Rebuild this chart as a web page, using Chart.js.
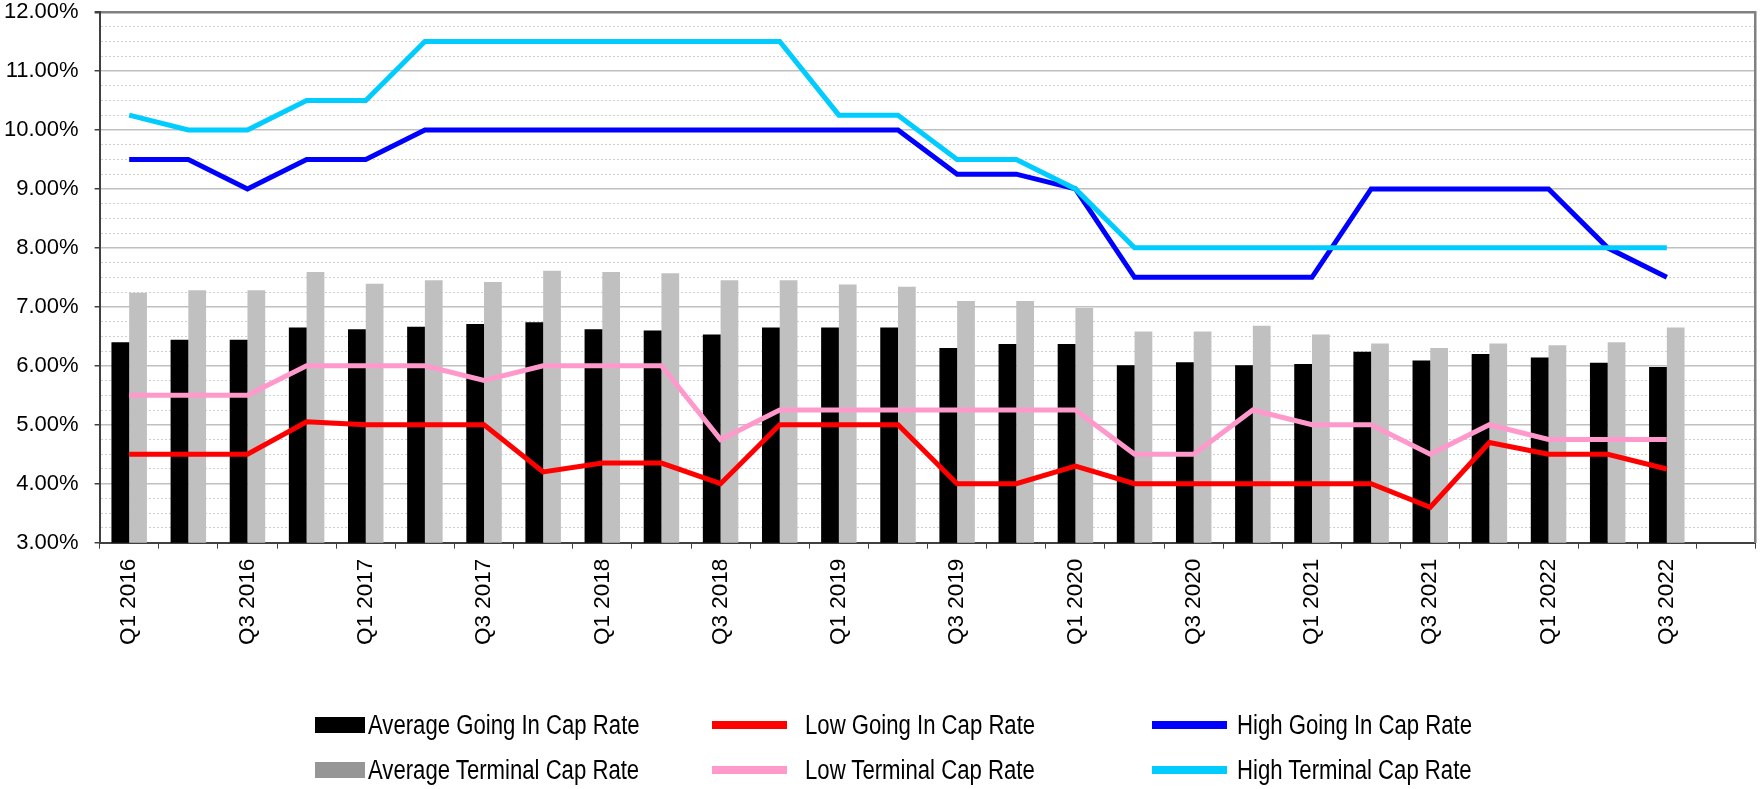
<!DOCTYPE html>
<html>
<head>
<meta charset="utf-8">
<script src="https://cdn.jsdelivr.net/npm/chart.js@4.4.0/dist/chart.umd.min.js"></script>
<style>
  html, body { margin: 0; padding: 0; background: #fff; }
  #wrap { position: relative; width: 1763px; height: 789px; overflow: hidden; }
  #capChart { position: absolute; left: 0; top: 0; }
  #legend {
    position: absolute; left: 0; top: 0; width: 1763px; height: 789px; pointer-events: none;
    font-family: 'Liberation Sans', Arial, sans-serif; font-size: 27px; color: #000;
  }
  .swatch { position: absolute; }
  .lg-text {
    position: absolute; white-space: nowrap; line-height: 30px; height: 30px;
    transform: scaleX(0.82); transform-origin: 0 50%;
  }
</style>
</head>
<body>
<div id="wrap">
  <canvas id="capChart" width="1763" height="789"></canvas>
  <div id="legend"></div>
</div>
<script>
document.addEventListener("DOMContentLoaded", function () {
  const quarters = [
    'Q1 2016', 'Q2 2016', 'Q3 2016', 'Q4 2016',
    'Q1 2017', 'Q2 2017', 'Q3 2017', 'Q4 2017',
    'Q1 2018', 'Q2 2018', 'Q3 2018', 'Q4 2018',
    'Q1 2019', 'Q2 2019', 'Q3 2019', 'Q4 2019',
    'Q1 2020', 'Q2 2020', 'Q3 2020', 'Q4 2020',
    'Q1 2021', 'Q2 2021', 'Q3 2021', 'Q4 2021',
    'Q1 2022', 'Q2 2022', 'Q3 2022', ''
  ];

  // cap rates in percent
  const avgGoingIn = [6.40, 6.44, 6.44, 6.65, 6.62, 6.66, 6.71, 6.74, 6.62, 6.60, 6.53, 6.65, 6.65, 6.65, 6.30, 6.37, 6.37, 6.01, 6.06, 6.01, 6.03, 6.24, 6.09, 6.20, 6.14, 6.05, 5.98];
  const avgTerminal = [7.24, 7.28, 7.28, 7.59, 7.39, 7.45, 7.42, 7.61, 7.59, 7.57, 7.45, 7.45, 7.38, 7.34, 7.10, 7.10, 6.98, 6.58, 6.58, 6.68, 6.53, 6.38, 6.30, 6.38, 6.35, 6.40, 6.65];
  const lowGoingIn = [4.5, 4.5, 4.5, 5.05, 5, 5, 5, 4.2, 4.35, 4.35, 4, 5, 5, 5, 4, 4, 4.3, 4, 4, 4, 4, 4, 3.6, 4.7, 4.5, 4.5, 4.25];
  const lowTerminal = [5.5, 5.5, 5.5, 6, 6, 6, 5.75, 6, 6, 6, 4.75, 5.25, 5.25, 5.25, 5.25, 5.25, 5.25, 4.5, 4.5, 5.25, 5, 5, 4.5, 5, 4.75, 4.75, 4.75];
  const highGoingIn = [9.5, 9.5, 9, 9.5, 9.5, 10, 10, 10, 10, 10, 10, 10, 10, 10, 9.25, 9.25, 9, 7.5, 7.5, 7.5, 7.5, 9, 9, 9, 9, 8, 7.5];
  const highTerminal = [10.25, 10, 10, 10.5, 10.5, 11.5, 11.5, 11.5, 11.5, 11.5, 11.5, 11.5, 10.25, 10.25, 9.5, 9.5, 9, 8, 8, 8, 8, 8, 8, 8, 8, 8, 8];

  const legendOrder = [
    'Average Going In Cap Rate', 'Low Going In Cap Rate', 'High Going In Cap Rate',
    'Average Terminal Cap Rate', 'Low Terminal Cap Rate', 'High Terminal Cap Rate'
  ];

  const yFont = { family: "'Liberation Sans', Arial, sans-serif", size: 22 };
  const xFont = { family: "'Liberation Sans', Arial, sans-serif", size: 22.5 };
  const isMajor = c => c.tick && Number.isInteger(c.tick.value);
  const isTop = c => c.tick && c.tick.value === 12;

  // legend drawn as html, laid out in the same 3 x 2 grid as the original
  const swatchLeft = [315, 712, 1152];
  const textLeft = [368, 805, 1237];
  const rowMid = [725, 770];
  const swatchOverride = { 'Average Terminal Cap Rate': '#969696' };

  const htmlLegend = {
    id: 'htmlLegend',
    afterUpdate(chart) {
      const box = document.getElementById('legend');
      box.innerHTML = '';
      const items = Chart.defaults.plugins.legend.labels.generateLabels(chart);
      legendOrder.forEach((name, k) => {
        const item = items.find(i => i.text === name);
        if (!item) return;
        const ds = chart.data.datasets[item.datasetIndex];
        const col = k % 3;
        const row = Math.floor(k / 3);
        const isLine = ds.type === 'line';
        const w = isLine ? 75 : 50;
        const h = isLine ? 8 : 16;

        const sw = document.createElement('span');
        sw.className = 'swatch';
        sw.style.left = swatchLeft[col] + 'px';
        sw.style.top = (rowMid[row] - h / 2) + 'px';
        sw.style.width = w + 'px';
        sw.style.height = h + 'px';
        sw.style.background = swatchOverride[name] || (isLine ? ds.borderColor : ds.backgroundColor);
        box.appendChild(sw);

        const tx = document.createElement('span');
        tx.className = 'lg-text';
        tx.style.left = textLeft[col] + 'px';
        tx.style.top = (rowMid[row] - 15) + 'px';
        tx.textContent = item.text;
        box.appendChild(tx);
      });
    }
  };

  new Chart(document.getElementById('capChart'), {
    type: 'bar',
    data: {
      labels: quarters,
      datasets: [
        { type: 'line', label: 'High Terminal Cap Rate', data: highTerminal, borderColor: '#00CCFF', backgroundColor: '#00CCFF', borderWidth: 5, pointRadius: 0, tension: 0, order: 0 },
        { type: 'line', label: 'High Going In Cap Rate', data: highGoingIn, borderColor: '#0000FF', backgroundColor: '#0000FF', borderWidth: 5, pointRadius: 0, tension: 0, order: 1 },
        { type: 'line', label: 'Low Terminal Cap Rate', data: lowTerminal, borderColor: '#FF99CC', backgroundColor: '#FF99CC', borderWidth: 5, pointRadius: 0, tension: 0, order: 2 },
        { type: 'line', label: 'Low Going In Cap Rate', data: lowGoingIn, borderColor: '#FF0000', backgroundColor: '#FF0000', borderWidth: 5, pointRadius: 0, tension: 0, order: 3 },
        { type: 'bar', label: 'Average Going In Cap Rate', data: avgGoingIn, backgroundColor: '#000000', borderWidth: 0, categoryPercentage: 0.6, barPercentage: 1, order: 4 },
        { type: 'bar', label: 'Average Terminal Cap Rate', data: avgTerminal, backgroundColor: '#C0C0C0', borderWidth: 0, categoryPercentage: 0.6, barPercentage: 1, order: 5 }
      ]
    },
    options: {
      responsive: false,
      animation: false,
      layout: { padding: { left: -12, right: -6, top: 0, bottom: 134 } },
      plugins: {
        legend: { display: false },
        tooltip: { enabled: false }
      },
      scales: {
        x: {
          grid: { offset: true, drawOnChartArea: false, tickLength: 6, tickColor: '#404040', tickWidth: 1 },
          border: { color: '#404040', width: 2 },
          ticks: {
            autoSkip: false,
            minRotation: 90,
            maxRotation: 90,
            padding: 10,
            color: '#000',
            font: xFont,
            callback: function (value, index) {
              return index % 2 === 0 ? this.getLabelForValue(value) : '';
            }
          }
        },
        y: {
          min: 3,
          max: 12,
          afterFit: scale => { scale.paddingTop = 12; },
          ticks: {
            stepSize: 0.25,
            autoSkip: false,
            padding: 16,
            color: '#000',
            font: yFont,
            callback: v => Number.isInteger(v) ? v.toFixed(2) + '%' : ''
          },
          grid: {
            color: c => isTop(c) ? '#808080' : (isMajor(c) ? '#c0c0c0' : '#cfcfcf'),
            lineWidth: c => isTop(c) ? 2.5 : (isMajor(c) ? 1.5 : 1),
            tickLength: 5,
            tickColor: c => isMajor(c) ? '#404040' : 'rgba(0,0,0,0)'
          },
          border: {
            color: '#404040',
            width: 2,
            dash: c => (c.tick && !Number.isInteger(c.tick.value)) ? [2, 2] : []
          }
        },
        yRight: {
          position: 'right',
          grid: { display: false },
          ticks: { display: false },
          border: { color: '#808080', width: 2.5 }
        }
      }
    },
    plugins: [htmlLegend]
  });
});
</script>
</body>
</html>
